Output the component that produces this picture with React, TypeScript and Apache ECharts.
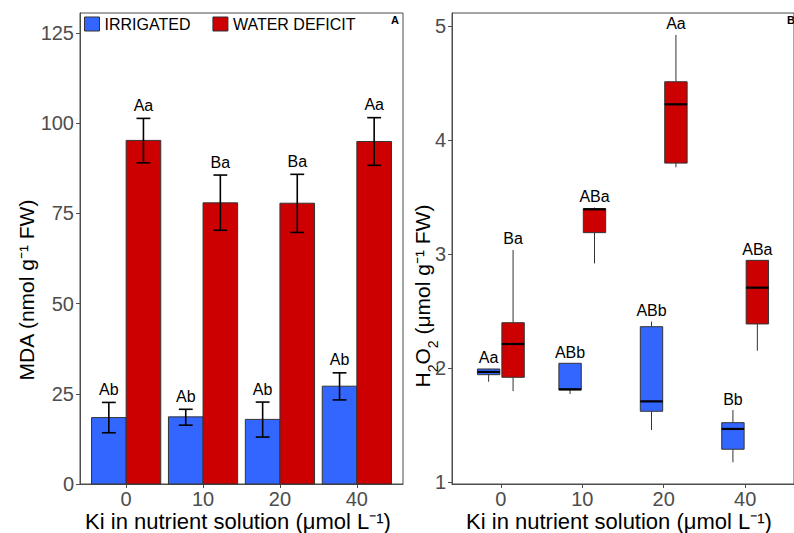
import React, { useEffect, useRef } from 'react';
import * as echarts from 'echarts';

// ---------- data ----------
const categories = ['0', '10', '20', '40'];

// Panel A: MDA (bars = mean, error bars = low/high)
const mdaIrrigated = [18.4, 18.6, 17.9, 27.1];
const mdaIrrigatedLow = [14.2, 16.3, 13.0, 23.3];
const mdaIrrigatedHigh = [22.6, 20.7, 22.7, 30.8];
const mdaIrrigatedLetters = ['Ab', 'Ab', 'Ab', 'Ab'];

const mdaDeficit = [95.2, 77.9, 77.8, 94.9];
const mdaDeficitLow = [89.0, 70.3, 69.7, 88.3];
const mdaDeficitHigh = [101.3, 85.6, 85.8, 101.5];
const mdaDeficitLetters = ['Aa', 'Ba', 'Ba', 'Aa'];

const mdaTicks = [0, 25, 50, 75, 100, 125];

// Panel B: H2O2 box stats [min, q1, median, q3, max]
const h2o2Irrigated = [
  [1.882, 1.944, 1.968, 1.994, 1.995],
  [1.775, 1.81, 1.816, 2.044, 2.044],
  [1.459, 1.623, 1.71, 2.365, 2.41],
  [1.175, 1.29, 1.468, 1.523, 1.634],
];
const h2o2IrrigatedLetters = ['Aa', 'ABb', 'ABb', 'Bb'];

const h2o2Deficit = [
  [1.8, 1.921, 2.213, 2.4, 3.038],
  [2.92, 3.19, 3.395, 3.4, 3.41],
  [3.763, 3.8, 4.316, 4.514, 4.924],
  [2.154, 2.389, 2.707, 2.947, 2.947],
];
const h2o2DeficitLetters = ['Ba', 'ABa', 'Aa', 'ABa'];

const h2o2Ticks = [1, 2, 3, 4, 5];

// ---------- style ----------
const FONT = '"Liberation Sans", Arial, Helvetica, sans-serif';
const BLUE = '#3366FF';
const RED = '#CC0000';
const EDGE = '#333333';
const AXIS = '#4d4d4d';

function barRender(offset: number, letters: string[]) {
  return (params: any, api: any) => {
    const i = api.value(0) as number;
    const v = api.value(1) as number;
    const lo = api.value(2) as number;
    const hi = api.value(3) as number;
    const x = i + offset;
    const pTop = api.coord([x - 0.225, v]);
    const pBase = api.coord([x + 0.225, 0]);
    const pHi = api.coord([x, hi]);
    const pLo = api.coord([x, lo]);
    const capHalf = api.size([0.09, 0])[0];
    const color = api.visual('color');
    return {
      type: 'group',
      children: [
        {
          type: 'rect',
          shape: { x: pTop[0], y: pTop[1], width: pBase[0] - pTop[0], height: pBase[1] - pTop[1] },
          style: { fill: color, stroke: EDGE, lineWidth: 1 },
        },
        {
          type: 'line',
          shape: { x1: pHi[0], y1: pHi[1], x2: pLo[0], y2: pLo[1] },
          style: { stroke: '#000', lineWidth: 1.6 },
        },
        {
          type: 'line',
          shape: { x1: pHi[0] - capHalf, y1: pHi[1], x2: pHi[0] + capHalf, y2: pHi[1] },
          style: { stroke: '#000', lineWidth: 1.6 },
        },
        {
          type: 'line',
          shape: { x1: pLo[0] - capHalf, y1: pLo[1], x2: pLo[0] + capHalf, y2: pLo[1] },
          style: { stroke: '#000', lineWidth: 1.6 },
        },
        {
          type: 'text',
          x: pHi[0],
          y: pHi[1] - 13,
          style: {
            text: letters[params.dataIndex],
            fontSize: 16,
            fontFamily: FONT,
            fill: '#000',
            align: 'center',
            verticalAlign: 'middle',
          },
        },
      ],
    };
  };
}

function boxRender(offset: number, letters: string[]) {
  return (params: any, api: any) => {
    const i = api.value(0) as number;
    const mn = api.value(1) as number;
    const q1 = api.value(2) as number;
    const md = api.value(3) as number;
    const q3 = api.value(4) as number;
    const mx = api.value(5) as number;
    const x = i + offset;
    const hw = 0.1375;
    const pTL = api.coord([x - hw, q3]);
    const pBR = api.coord([x + hw, q1]);
    const pMax = api.coord([x, mx]);
    const pMin = api.coord([x, mn]);
    const pMed = api.coord([x, md]);
    const color = api.visual('color');
    return {
      type: 'group',
      children: [
        {
          type: 'line',
          shape: { x1: pMax[0], y1: pMax[1], x2: pMax[0], y2: pTL[1] },
          style: { stroke: EDGE, lineWidth: 1 },
        },
        {
          type: 'line',
          shape: { x1: pMin[0], y1: pMin[1], x2: pMin[0], y2: pBR[1] },
          style: { stroke: EDGE, lineWidth: 1 },
        },
        {
          type: 'rect',
          shape: { x: pTL[0], y: pTL[1], width: pBR[0] - pTL[0], height: pBR[1] - pTL[1] },
          style: { fill: color, stroke: EDGE, lineWidth: 1 },
        },
        {
          type: 'line',
          shape: { x1: pTL[0], y1: pMed[1], x2: pBR[0], y2: pMed[1] },
          style: { stroke: '#000', lineWidth: 2.2 },
        },
        {
          type: 'text',
          x: pMax[0],
          y: pMax[1] - 11,
          style: {
            text: letters[params.dataIndex],
            fontSize: 16,
            fontFamily: FONT,
            fill: '#000',
            align: 'center',
            verticalAlign: 'middle',
          },
        },
      ],
    };
  };
}

export default function App() {
  const ref = useRef<HTMLDivElement>(null);

  useEffect(() => {
    if (!ref.current) return;
    const chart = echarts.init(ref.current, null, { renderer: 'svg' });

    const xLabelFmt = (v: number) => categories[Math.round(v) - 1] ?? '';
    const catPos = categories.map((_, k) => k + 1);

    const xAxisBase = (gridIndex: number) => ({
      type: 'value',
      gridIndex,
      min: 0.4,
      max: 4.6,
      axisLine: { show: true, lineStyle: { color: AXIS, width: 1 } },
      axisTick: { show: true, length: 4, lineStyle: { color: AXIS }, customValues: catPos },
      axisLabel: {
        customValues: catPos,
        formatter: xLabelFmt,
        fontSize: 20,
        color: AXIS,
        fontFamily: FONT,
        margin: 5,
      },
      splitLine: { show: false },
    });

    const option: any = {
      animation: false,
      backgroundColor: '#ffffff',
      grid: [
        {
          left: 80,
          top: 13,
          width: 323,
          height: 471,
          show: true,
          borderColor: AXIS,
          borderWidth: 1,
          backgroundColor: 'transparent',
        },
        {
          left: 452,
          top: 13,
          width: 346,
          height: 471,
          show: true,
          borderColor: AXIS,
          borderWidth: 1,
          backgroundColor: 'transparent',
        },
      ],
      xAxis: [xAxisBase(0), xAxisBase(1)],
      yAxis: [
        {
          type: 'value',
          gridIndex: 0,
          min: 0,
          max: 130.5,
          axisLine: { show: true, lineStyle: { color: AXIS, width: 1 } },
          axisTick: { show: true, length: 4, lineStyle: { color: AXIS }, customValues: mdaTicks },
          axisLabel: { customValues: mdaTicks, fontSize: 20, color: AXIS, fontFamily: FONT, margin: 6 },
          splitLine: { show: false },
        },
        {
          type: 'value',
          gridIndex: 1,
          min: 0.985,
          max: 5.117,
          axisLine: { show: true, lineStyle: { color: AXIS, width: 1 } },
          axisTick: { show: true, length: 4, lineStyle: { color: AXIS }, customValues: h2o2Ticks },
          axisLabel: { customValues: h2o2Ticks, fontSize: 20, color: AXIS, fontFamily: FONT, margin: 6 },
          splitLine: { show: false },
        },
      ],
      legend: {
        data: ['IRRIGATED', 'WATER DEFICIT'],
        left: 79,
        top: 11,
        itemWidth: 15,
        itemHeight: 14,
        itemGap: 22,
        icon: 'rect',
        selectedMode: false,
        itemStyle: { borderColor: EDGE, borderWidth: 1 },
        textStyle: { fontSize: 16, color: '#000', fontFamily: FONT },
      },
      series: [
        {
          name: 'IRRIGATED',
          type: 'custom',
          xAxisIndex: 0,
          yAxisIndex: 0,
          itemStyle: { color: BLUE },
          renderItem: barRender(-0.225, mdaIrrigatedLetters),
          encode: { x: 0, y: [1, 2, 3] },
          data: mdaIrrigated.map((v, k) => [k + 1, v, mdaIrrigatedLow[k], mdaIrrigatedHigh[k]]),
        },
        {
          name: 'WATER DEFICIT',
          type: 'custom',
          xAxisIndex: 0,
          yAxisIndex: 0,
          itemStyle: { color: RED },
          renderItem: barRender(0.225, mdaDeficitLetters),
          encode: { x: 0, y: [1, 2, 3] },
          data: mdaDeficit.map((v, k) => [k + 1, v, mdaDeficitLow[k], mdaDeficitHigh[k]]),
        },
        {
          name: 'IRRIGATED',
          type: 'custom',
          xAxisIndex: 1,
          yAxisIndex: 1,
          itemStyle: { color: BLUE },
          renderItem: boxRender(-0.15, h2o2IrrigatedLetters),
          encode: { x: 0, y: [1, 2, 3, 4, 5] },
          data: h2o2Irrigated.map((s, k) => [k + 1, ...s]),
        },
        {
          name: 'WATER DEFICIT',
          type: 'custom',
          xAxisIndex: 1,
          yAxisIndex: 1,
          itemStyle: { color: RED },
          renderItem: boxRender(0.15, h2o2DeficitLetters),
          encode: { x: 0, y: [1, 2, 3, 4, 5] },
          data: h2o2Deficit.map((s, k) => [k + 1, ...s]),
        },
      ],
      graphic: [
        {
          type: 'text',
          x: 26,
          y: 290,
          rotation: Math.PI / 2,
          style: {
            text: 'MDA (nmol g⁻¹ FW)',
            fontSize: 21,
            fontFamily: FONT,
            fill: '#000',
            align: 'center',
            verticalAlign: 'middle',
          },
        },
        {
          type: 'text',
          x: 422,
          y: 296,
          rotation: Math.PI / 2,
          style: {
            text: '{n|H}{s|2}{n|O}{s|2}{n| (μmol g⁻¹ FW)}',
            fontSize: 21,
            fontFamily: FONT,
            fill: '#000',
            align: 'center',
            verticalAlign: 'middle',
            rich: {
              n: { fontSize: 21, fontFamily: FONT, fill: '#000', lineHeight: 24 },
              s: { fontSize: 14, fontFamily: FONT, fill: '#000', verticalAlign: 'bottom', lineHeight: 24, padding: [0, 0, -6, 0] },
            },
          },
        },
        {
          type: 'text',
          x: 238,
          y: 521,
          style: {
            text: 'Ki in nutrient solution (μmol L⁻¹)',
            fontSize: 22,
            fontFamily: FONT,
            fill: '#000',
            align: 'center',
            verticalAlign: 'middle',
          },
        },
        {
          type: 'text',
          x: 619,
          y: 521,
          style: {
            text: 'Ki in nutrient solution (μmol L⁻¹)',
            fontSize: 22,
            fontFamily: FONT,
            fill: '#000',
            align: 'center',
            verticalAlign: 'middle',
          },
        },
        {
          type: 'text',
          x: 395,
          y: 20,
          style: {
            text: 'A',
            fontSize: 11,
            fontWeight: 'bold',
            fontFamily: FONT,
            fill: '#000',
            align: 'center',
            verticalAlign: 'middle',
          },
        },
        {
          type: 'text',
          x: 791,
          y: 20,
          style: {
            text: 'B',
            fontSize: 11,
            fontWeight: 'bold',
            fontFamily: FONT,
            fill: '#000',
            align: 'center',
            verticalAlign: 'middle',
          },
        },
      ],
    };

    chart.setOption(option);
    return () => chart.dispose();
  }, []);

  return (
    <div
      ref={ref}
      style={{ position: 'fixed', left: 0, top: 0, width: 794, height: 533, background: '#fff' }}
    />
  );
}
